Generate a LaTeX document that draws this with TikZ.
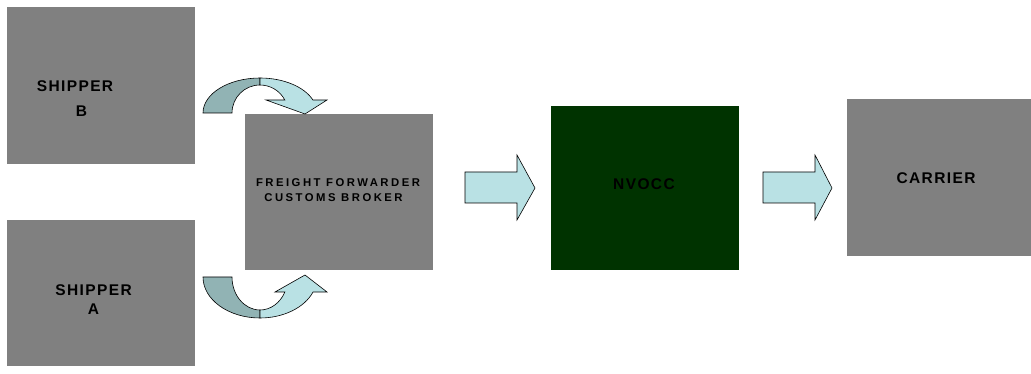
\documentclass[tikz,border=0pt]{standalone}
\usepackage{fontspec}
\setmainfont{Liberation Sans}
\newfontfamily\boxfont{Liberation Sans}[LetterSpace=9, UprightFont=*-Bold]
\newfontfamily\boxfontsm{Liberation Sans}[LetterSpace=22, UprightFont=*-Bold]

\definecolor{boxgray}{HTML}{808080}
\definecolor{nvgreen}{HTML}{003300}
\definecolor{arrowlight}{HTML}{B9E1E4}
\definecolor{arrowdark}{HTML}{91B3B4}

\tikzset{
  block/.style={fill=boxgray, inner sep=0pt, minimum width=188pt},
  biglbl/.style={inner sep=0pt, align=center, text=black,
    font=\fontsize{15.5}{18.6}\boxfont},
  smalllbl/.style={inner sep=0pt, align=center, text=black,
    font=\fontsize{11.3}{14.4}\boxfontsm},
  flowarrow/.style={draw=black, fill=arrowlight, line width=0.6pt},
  backarrow/.style={draw=black, fill=arrowdark, line width=0.6pt},
}

\begin{document}
\begin{tikzpicture}[x=1pt, y=1pt]
      \useasboundingbox (0,0) rectangle (1031,374);
      % boxes
      \node[block, minimum height=157pt] (shipb) at (101, 288.5) {};
      \node[block, minimum height=146pt] (shipa) at (101, 81) {};
      \node[block, minimum height=156pt] (ffwd) at (339, 182) {};
      \node[block, fill=nvgreen, minimum height=164pt] (nvocc) at (645, 186) {};
      \node[block, minimum width=184pt, minimum height=157pt] (carrier) at (939, 196.5) {};
      % labels
      \node[biglbl] (shipbtxt) at (75, 275.5) {SHIPPER\\[6.4pt]\hspace*{13pt}B};
      \node[biglbl] (shipatxt) at (93.5, 74.5) {SHIPPER\\[0.4pt]A};
      \node[smalllbl] (ffwdtxt) at (338, 183.7) {FREIGHT FORWARDER\\CUSTOMS BROKER\hspace*{9pt}};
      \node[biglbl] (nvocctxt) at (644, 190) {NVOCC};
      \node[biglbl] (carriertxt) at (936, 195.5) {CARRIER};
      % straight arrows
      \draw[flowarrow] (465,202) -- (517,202) -- (517,219) -- (535,186) -- (517,154) -- (517,171) -- (465,171) -- cycle;
      \draw[flowarrow] (763,202) -- (815,202) -- (815,219) -- (832,186) -- (815,154) -- (815,171) -- (763,171) -- cycle;
      % curved arrow, shipper B
      \draw[backarrow] (203,261) arc[start angle=180, end angle=90, x radius=57, y radius=35]
        -- (260,289) arc[start angle=90, end angle=180, x radius=28, y radius=28] -- cycle;
      \draw[flowarrow] (260,296) arc[start angle=90, end angle=21.8, x radius=57, y radius=35]
        -- (327,274) -- (305,260) -- (266,274) -- (284.8,274)
        arc[start angle=27.7, end angle=90, x radius=28, y radius=28] -- cycle;
      % curved arrow, shipper A
      \draw[backarrow] (203,97) arc[start angle=180, end angle=270, x radius=57, y radius=41]
        -- (260,64) arc[start angle=270, end angle=180, x radius=28, y radius=33] -- cycle;
      \draw[flowarrow] (260,56) arc[start angle=270, end angle=338.5, x radius=57, y radius=41]
        -- (327,82) -- (305,99) -- (275,82) -- (284.9,82)
        arc[start angle=333, end angle=270, x radius=28, y radius=33] -- cycle;
\end{tikzpicture}
\end{document}
